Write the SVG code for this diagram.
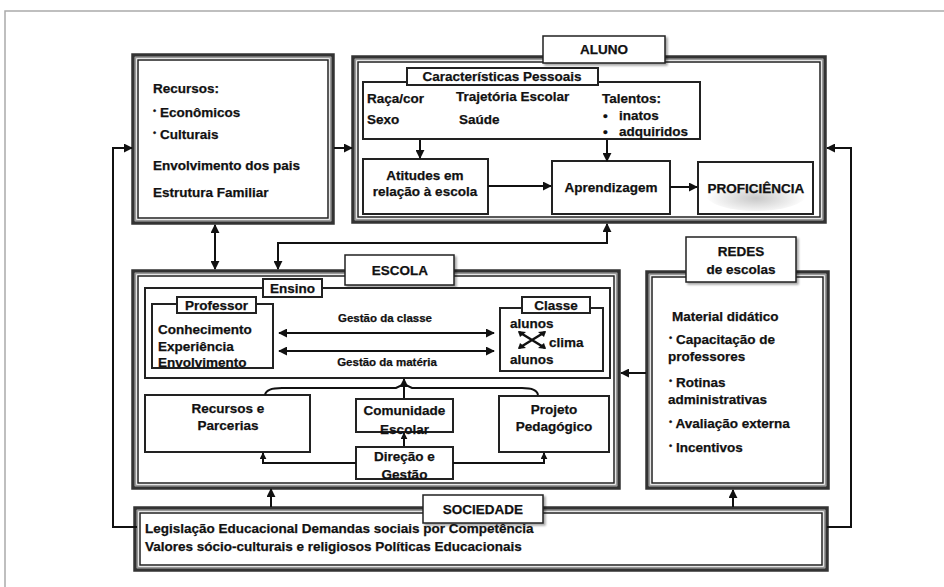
<svg xmlns="http://www.w3.org/2000/svg" width="944" height="587" viewBox="0 0 944 587">
<defs>
<style>
.t{font-family:"Liberation Sans",Arial,sans-serif;font-weight:bold;font-size:13.5px;fill:#111;stroke:#111;stroke-width:0.25}
.m{text-anchor:middle}
.s{font-size:11.5px}
.bo{fill:#fff;stroke:#333;stroke-width:3.5}
.bg{fill:none;stroke:#9a9a9a;stroke-width:1.5}
.bi{fill:none;stroke:#222;stroke-width:1.5}
.lb{fill:#fff;stroke:#222;stroke-width:1.5}
.bx{fill:#fff;stroke:#222;stroke-width:2}
.c{fill:none;stroke:#111;stroke-width:2}
</style>
<marker id="ah" viewBox="0 0 10 10" refX="9" refY="5" markerWidth="9" markerHeight="9" markerUnits="userSpaceOnUse" orient="auto-start-reverse">
<path d="M0,0 L10,5 L0,10 z" fill="#111"/>
</marker>
<marker id="as" viewBox="0 0 10 10" refX="9" refY="5" markerWidth="7" markerHeight="7" markerUnits="userSpaceOnUse" orient="auto-start-reverse">
<path d="M0,0 L10,5 L0,10 z" fill="#111"/>
</marker>
<radialGradient id="glow" cx="0.5" cy="0.6" r="0.5">
<stop offset="0" stop-color="#c8c8c8"/>
<stop offset="1" stop-color="#fff"/>
</radialGradient>
<filter id="sh" x="-10%" y="-10%" width="130%" height="140%">
<feGaussianBlur in="SourceAlpha" stdDeviation="1.2"/>
<feOffset dx="1.5" dy="1.5"/>
<feComponentTransfer><feFuncA type="linear" slope="0.35"/></feComponentTransfer>
<feMerge><feMergeNode/><feMergeNode in="SourceGraphic"/></feMerge>
</filter>
</defs>
<rect x="0" y="0" width="944" height="587" fill="#fff"/>
<rect x="5" y="11" width="960" height="600" fill="none" stroke="#aaa" stroke-width="1.5"/>

<g id="recursos-familia">
<rect class="bo" x="133" y="55" width="200" height="168"/>
<rect class="bg" x="135.5" y="57.5" width="195" height="163"/>
<rect class="bi" x="138" y="60" width="190" height="158"/>
<text class="t" x="153" y="93">Recursos:</text>
<text class="t" x="153" y="117"><tspan font-size="9" dy="-3">•</tspan><tspan dy="3"> Econômicos</tspan></text>
<text class="t" x="153" y="139"><tspan font-size="9" dy="-3">•</tspan><tspan dy="3"> Culturais</tspan></text>
<text class="t" x="153" y="170">Envolvimento dos pais</text>
<text class="t" x="153" y="197">Estrutura Familiar</text>
</g>

<g id="aluno">
<rect class="bo" x="353" y="57" width="472" height="165"/>
<rect class="bg" x="355.5" y="59.5" width="467" height="160"/>
<rect class="bi" x="358" y="62" width="462" height="155"/>
<rect class="lb" x="543" y="36" width="122" height="27" filter="url(#sh)"/>
<text class="t m" x="604" y="54">ALUNO</text>
</g>

<g id="caracteristicas">
<rect class="bx" x="363" y="82" width="337" height="57"/>
<rect class="bx" x="407" y="68" width="191" height="17"/>
<text class="t m" x="502" y="81">Características Pessoais</text>
<text class="t" x="367" y="103">Raça/cor</text>
<text class="t" x="367" y="124">Sexo</text>
<text class="t" x="456" y="101">Trajetória Escolar</text>
<text class="t" x="459" y="124">Saúde</text>
<text class="t" x="602" y="103">Talentos:</text>
<text class="t" x="603" y="120">•</text>
<text class="t" x="619" y="120">inatos</text>
<text class="t" x="603" y="136">•</text>
<text class="t" x="619" y="136">adquiridos</text>
</g>

<g id="atitudes">
<rect class="bx" x="363" y="159" width="125" height="55"/>
<text class="t m" x="425" y="180">Atitudes em</text>
<text class="t m" x="425" y="196">relação à escola</text>
</g>

<g id="aprendizagem">
<rect class="bx" x="552" y="161" width="118" height="53"/>
<text class="t m" x="611" y="192">Aprendizagem</text>
</g>

<g id="proficiencia">
<rect class="bx" x="698" y="162" width="115" height="52"/>
<ellipse cx="756" cy="195" rx="50" ry="16" fill="url(#glow)"/>
<text class="t m" x="756" y="193">PROFICIÊNCIA</text>
</g>

<g id="escola">
<rect class="bo" x="133" y="271" width="486" height="217"/>
<rect class="bg" x="135.5" y="273.5" width="481" height="212"/>
<rect class="bi" x="138" y="276" width="476" height="207"/>
<rect class="lb" x="345" y="255" width="109" height="30" filter="url(#sh)"/>
<text class="t m" x="400" y="275">ESCOLA</text>
</g>

<g id="ensino">
<rect class="bx" x="145" y="288" width="465" height="90"/>
<rect class="bx" x="263" y="279" width="59" height="18"/>
<text class="t m" x="292.5" y="293">Ensino</text>
</g>

<g id="professor">
<rect class="bx" x="152" y="304" width="121" height="64"/>
<rect class="bx" x="177" y="297" width="79" height="16"/>
<text class="t m" x="216.5" y="310">Professor</text>
<text class="t" x="158" y="334">Conhecimento</text>
<text class="t" x="158" y="351">Experiência</text>
<text class="t" x="158" y="367">Envolvimento</text>
<text class="t m s" x="385" y="322">Gestão da classe</text>
<text class="t m s" x="387" y="366">Gestão da matéria</text>
</g>

<g id="classe">
<rect class="bx" x="500" y="308" width="103" height="63"/>
<rect class="bx" x="522" y="297" width="68" height="16"/>
<text class="t m" x="556" y="310">Classe</text>
<text class="t" x="510" y="328">alunos</text>
<path d="M519,332 L545,348 M545,332 L519,348" stroke="#111" stroke-width="2.5"/>
<path d="M518,331 l8,1 l-6,5 z M546,331 l-8,1 l6,5 z M518,349 l8,-1 l-6,-5 z M546,349 l-8,-1 l6,-5 z" fill="#111"/>
<text class="t" x="549" y="347">clima</text>
<text class="t" x="510" y="364">alunos</text>
</g>

<g id="recursos-parcerias">
<rect class="bx" x="145" y="395" width="165" height="57"/>
<text class="t m" x="228" y="413">Recursos e</text>
<text class="t m" x="228" y="430">Parcerias</text>
</g>

<g id="comunidade">
<rect class="bx" x="356" y="399" width="97" height="33"/>
<text class="t m" x="404.5" y="415">Comunidade</text>
<text class="t m" x="404.5" y="434">Escolar</text>
</g>

<g id="direcao">
<rect class="bx" x="356" y="447" width="97" height="32"/>
<text class="t m" x="404.5" y="461">Direção e</text>
<text class="t m" x="404.5" y="479">Gestão</text>
</g>

<g id="projeto">
<rect class="bx" x="499" y="396" width="110" height="56"/>
<text class="t m" x="554" y="414">Projeto</text>
<text class="t m" x="554" y="431">Pedagógico</text>
</g>

<g id="redes">
<rect class="bo" x="647" y="272" width="181" height="216"/>
<rect class="bg" x="649.5" y="274.5" width="176" height="211"/>
<rect class="bi" x="652" y="277" width="171" height="206"/>
<rect class="lb" x="686" y="237" width="110" height="45" filter="url(#sh)"/>
<text class="t m" x="741" y="256">REDES</text>
<text class="t m" x="741" y="274">de escolas</text>
<text class="t" x="672" y="321">Material didático</text>
<text class="t" x="669" y="344"><tspan font-size="9" dy="-3">•</tspan><tspan dy="3"> Capacitação de</tspan></text>
<text class="t" x="668" y="361">professores</text>
<text class="t" x="669" y="387"><tspan font-size="9" dy="-3">•</tspan><tspan dy="3"> Rotinas</tspan></text>
<text class="t" x="668" y="404">administrativas</text>
<text class="t" x="669" y="428"><tspan font-size="9" dy="-3">•</tspan><tspan dy="3"> Avaliação externa</tspan></text>
<text class="t" x="669" y="452"><tspan font-size="9" dy="-3">•</tspan><tspan dy="3"> Incentivos</tspan></text>
</g>

<g id="sociedade">
<rect class="bo" x="135" y="508" width="692" height="62"/>
<rect class="bg" x="137.5" y="510.5" width="687" height="57"/>
<rect class="bi" x="140" y="513" width="682" height="52"/>
<rect class="lb" x="423" y="495" width="120" height="28" filter="url(#sh)"/>
<text class="t m" x="483" y="514">SOCIEDADE</text>
<text class="t" x="145" y="533">Legislação Educacional Demandas sociais por Competência</text>
<text class="t" x="145" y="551">Valores sócio-culturais e religiosos Políticas Educacionais</text>
</g>

<g id="connectors">
<path class="c" d="M137,527 H113 V148 H132" marker-end="url(#ah)"/>
<path class="c" d="M827,527 H851 V148 H827" marker-end="url(#ah)"/>
<path class="c" d="M334,148 H352" marker-end="url(#ah)"/>
<path class="c" d="M215,225 V269" marker-start="url(#ah)" marker-end="url(#ah)"/>
<path class="c" d="M607,224 V243 H278 V269" marker-start="url(#ah)" marker-end="url(#ah)"/>
<path class="c" d="M420,140 V158" marker-end="url(#ah)"/>
<path class="c" d="M607,140 V161" marker-end="url(#ah)"/>
<path class="c" d="M488,186 H551" marker-end="url(#ah)"/>
<path class="c" d="M670,187 H697" marker-end="url(#ah)"/>
<path class="c" d="M279,333 H494" marker-start="url(#ah)" marker-end="url(#ah)"/>
<path class="c" d="M279,351 H494" marker-start="url(#ah)" marker-end="url(#ah)"/>
<path class="c" d="M265,395 Q266,388 282,388 H396 L404,384 L412,388 H522 Q537,388 538,395"/>
<path class="c" d="M404,398 V379" marker-end="url(#ah)"/>
<path class="c" d="M404,446 V433" marker-end="url(#as)"/>
<path class="c" d="M356,463 H263 V453" marker-end="url(#as)"/>
<path class="c" d="M453,463 H544 V453" marker-end="url(#as)"/>
<path class="c" d="M646,373 H621" marker-end="url(#ah)"/>
<path class="c" d="M271,507 V489" marker-end="url(#ah)"/>
<path class="c" d="M733,507 V490" marker-end="url(#ah)"/>
</g>
</svg>
